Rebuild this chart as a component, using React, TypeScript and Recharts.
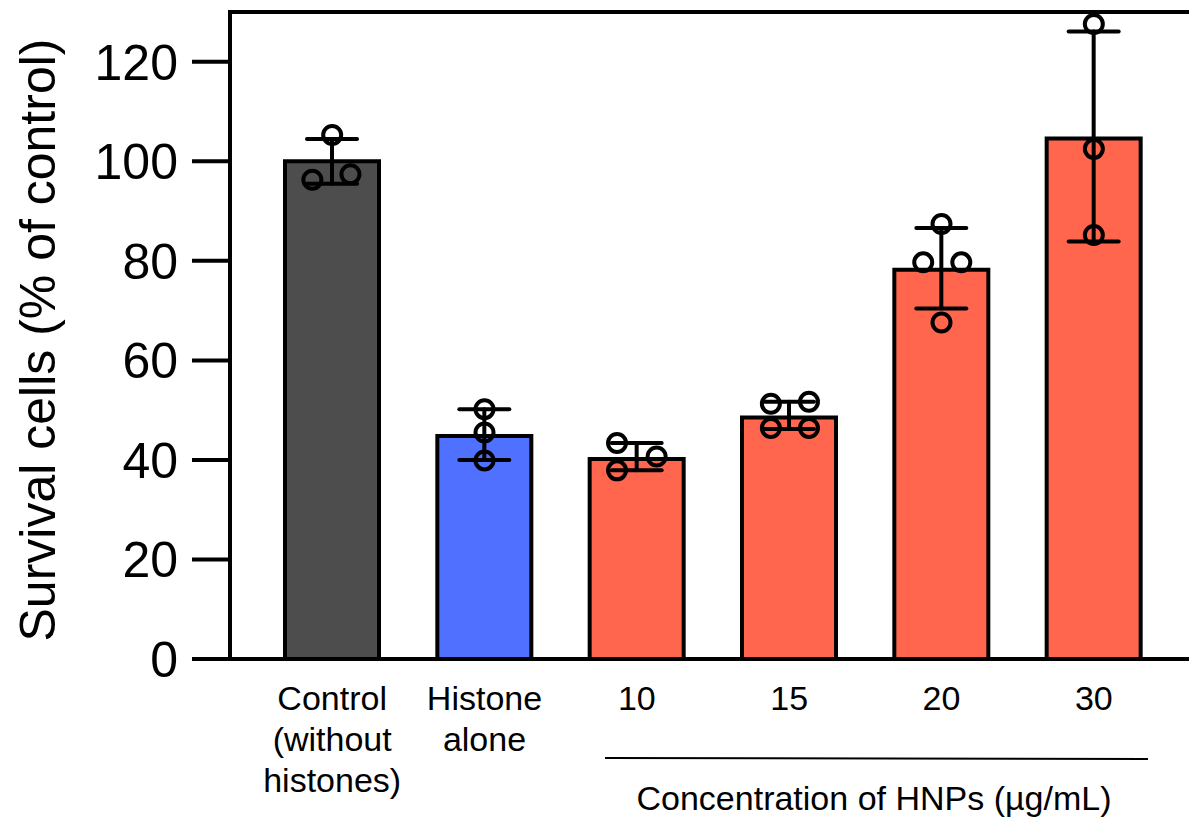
import React from 'react';
import {
  ComposedChart,
  Bar,
  Cell,
  ErrorBar,
  Scatter,
  XAxis,
  YAxis,
  ReferenceLine,
  Customized,
} from 'recharts';

const FONT = '"Liberation Sans", Arial, Helvetica, sans-serif';

// group labels on the x axis ("\n" = line break)
const groups = ['Control\n(without\nhistones)', 'Histone\nalone', '10', '15', '20', '30'];
// mean survival (% of control) per group
const means = [100, 44.8, 40.2, 48.5, 78.2, 104.6];
// error below / above the mean, as read from the caps
const errLow = [4.5, 4.8, 2.3, 2.3, 7.8, 20.7];
const errHigh = [4.5, 5.4, 3.2, 3.2, 8.4, 21.5];
// individual replicates per group
const replicates = [
  [105.3, 96.3, 97.4],
  [50.2, 45.5, 39.9],
  [43.4, 37.9, 40.7],
  [51.3, 51.7, 46.4, 46.4],
  [87.4, 79.7, 79.7, 67.6],
  [127.6, 102.5, 85.2],
];
// horizontal spread of the replicates, in category units
const jitter = [
  [0, -0.13, 0.12],
  [0, 0, 0],
  [-0.13, -0.13, 0.13],
  [-0.12, 0.13, -0.12, 0.13],
  [0, -0.12, 0.13, 0],
  [0, 0, 0],
];
const yTicks = [0, 20, 40, 60, 80, 100, 120];

const barColors = ['#4d4d4d', '#5071ff', '#ff664d', '#ff664d', '#ff664d', '#ff664d'];

const rows = groups.map((name, i) => ({
  name,
  mean: means[i],
  err: [errLow[i], errHigh[i]],
}));
const points = replicates.flatMap((vals, i) =>
  vals.map((v, j) => ({ x: i + jitter[i][j], y: v }))
);

const GroupTick = ({ x, y, payload }: any) => {
  const lines = String(payload.value).split('\n');
  return (
    <text x={x} y={y + 51} textAnchor="middle" fontSize={34} fill="#000" fontFamily={FONT}>
      {lines.map((l, k) => (
        <tspan key={k} x={x} dy={k === 0 ? 0 : 41}>
          {l}
        </tspan>
      ))}
    </text>
  );
};

const Dot = ({ cx, cy }: any) => (
  <circle cx={cx} cy={cy} r={9} fill="none" stroke="#000" strokeWidth={4} />
);

const Annotations = () => (
  <g fontFamily={FONT} fill="#000">
    <text
      transform="translate(55, 340) rotate(-90)"
      textAnchor="middle"
      fontSize={50}
    >
      Survival cells (% of control)
    </text>
    <line x1={605} y1={758} x2={1148} y2={759} stroke="#000" strokeWidth={2} />
    <text x={874} y={810} textAnchor="middle" fontSize={34}>
      Concentration of HNPs (µg/mL)
    </text>
  </g>
);

export default function App() {
  return (
    <div style={{ position: 'absolute', left: 0, top: 0, background: '#fff' }}>
      <ComposedChart
        width={1189}
        height={821}
        data={rows}
        margin={{ top: 12, right: 0, bottom: 0, left: 0 }}
        style={{ fontFamily: FONT }}
      >
        <XAxis
          xAxisId="cat"
          dataKey="name"
          type="category"
          height={162}
          padding={{ left: 26, right: 19 }}
          axisLine={{ stroke: '#000', strokeWidth: 4 }}
          tickLine={false}
          tickSize={0}
          tickMargin={0}
          interval={0}
          tick={<GroupTick />}
        />
        <XAxis
          xAxisId="num"
          dataKey="x"
          type="number"
          domain={[-0.5, 5.5]}
          padding={{ left: 26, right: 19 }}
          hide
        />
        <YAxis
          type="number"
          domain={[0, 130]}
          ticks={yTicks}
          width={230}
          axisLine={{ stroke: '#000', strokeWidth: 4 }}
          tickLine={{ stroke: '#000', strokeWidth: 4 }}
          tickSize={38}
          tickMargin={14}
          tick={{ fontSize: 50, fill: '#000', fontFamily: FONT }}
        />
        <ReferenceLine y={130} stroke="#000" strokeWidth={4} strokeLinecap="square" />
        <Bar
          xAxisId="cat"
          dataKey="mean"
          barSize={94}
          stroke="#000"
          strokeWidth={4}
          isAnimationActive={false}
        >
          {rows.map((r, i) => (
            <Cell key={r.name} fill={barColors[i]} />
          ))}
          <ErrorBar
            dataKey="err"
            width={25}
            stroke="#000"
            strokeWidth={4}
            strokeLinecap="round"
            direction="y"
          />
        </Bar>
        <Scatter
          xAxisId="num"
          data={points}
          dataKey="y"
          shape={<Dot />}
          isAnimationActive={false}
        />
        <Customized component={Annotations} />
      </ComposedChart>
    </div>
  );
}
